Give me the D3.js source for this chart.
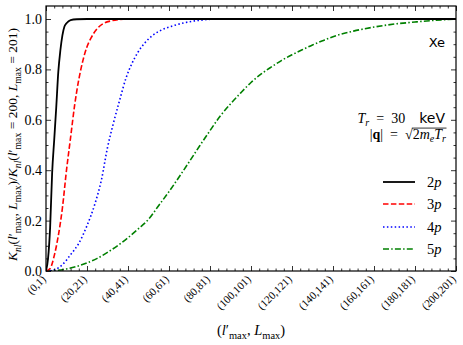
<!DOCTYPE html>
<html>
<head>
<meta charset="utf-8">
<script src="https://cdn.jsdelivr.net/npm/d3@7"></script>
<style>
  html, body { margin: 0; padding: 0; background: #fff; }
  svg { display: block; }
</style>
</head>
<body>
<svg id="chart" width="463" height="345"></svg>
<script>
// ---- data ----
const seriesNames = ["2p", "3p", "4p", "5p"];
const seriesColors = ["#000000", "#ff0000", "#0000ff", "#008000"];
const seriesDash = [null, "5.5,2.4", "1.5,2.4", "6,2.2,1.5,2.2"];

const x2p = [0, 1, 2, 3, 4, 5, 6, 7, 8, 9, 10, 12, 15, 20, 200];
const y2p = [0, 0.05, 0.17, 0.39, 0.52, 0.65, 0.79, 0.875, 0.935, 0.97, 0.983, 0.996, 0.999, 1.0, 1.0];

const x3p = [0, 2, 4, 6, 8, 10, 12, 14, 16, 18, 20, 22, 25, 28, 32, 36, 40, 200];
const y3p = [0, 0.01, 0.06, 0.14, 0.25, 0.40, 0.53, 0.66, 0.76, 0.835, 0.89, 0.925, 0.962, 0.982, 0.993, 0.998, 1.0, 1.0];

const x4p = [0, 4, 8, 12, 16, 20, 24, 27, 30, 33, 36, 39, 42, 45, 48, 52, 56, 62, 68, 75, 85, 200];
const y4p = [0, 0.005, 0.025, 0.065, 0.11, 0.18, 0.27, 0.36, 0.49, 0.59, 0.68, 0.765, 0.825, 0.87, 0.903, 0.935, 0.955, 0.973, 0.986, 0.995, 1.0, 1.0];

const x5p = [0, 5, 10, 15, 20, 25, 30, 35, 40, 45, 50, 55, 60, 65, 70, 75, 80, 85, 90, 95, 100, 105, 110, 115, 120, 125, 130, 135, 140, 150, 160, 170, 180, 190, 200];
const y5p = [0, 0.002, 0.008, 0.018, 0.032, 0.05, 0.074, 0.101, 0.132, 0.167, 0.205, 0.26, 0.315, 0.374, 0.435, 0.497, 0.557, 0.615, 0.663, 0.707, 0.748, 0.782, 0.81, 0.836, 0.858, 0.878, 0.897, 0.914, 0.93, 0.952, 0.968, 0.98, 0.988, 0.995, 1.0];

const xTicks = [0, 20, 40, 60, 80, 100, 120, 140, 160, 180, 200];
const xTickLabels = ["(0,1)", "(20,21)", "(40,41)", "(60,61)", "(80,81)", "(100,101)", "(120,121)", "(140,141)", "(160,161)", "(180,181)", "(200,201)"];
const yTicks = [0, 0.2, 0.4, 0.6, 0.8, 1.0];

// ---- layout ----
const L = 46, R = 456, T = 6, B = 271;
const SERIF = "'Liberation Serif', 'DejaVu Serif', serif";
const SANS = "'DejaVu Sans', sans-serif";

const svg = d3.select("#chart");
const x = d3.scaleLinear().domain([0, 200]).range([L, R]);
const y = d3.scaleLinear().domain([0, 1.0516]).range([B, T]);

// rich text helper: segments {t, it, sub, sup, bold, font}
function rich(textSel, segs, size, subShift) {
  const ss = subShift === undefined ? 0.28 : subShift;
  let cur = 0;
  segs.forEach(s => {
    const shift = s.sub ? size * ss : (s.sup ? -size * 0.4 : 0);
    const fs = (s.sub || s.sup) ? size * 0.72 : size;
    const ts = textSel.append("tspan")
      .text(s.t)
      .attr("font-size", fs)
      .attr("font-style", s.it ? "italic" : "normal")
      .attr("font-weight", s.bold ? "bold" : "normal");
    if (s.font) ts.attr("font-family", s.font);
    if (shift !== cur) { ts.attr("dy", shift - cur); cur = shift; }
  });
}

// ---- curves ----
const xs = [x2p, x3p, x4p, x5p];
const ys = [y2p, y3p, y4p, y5p];
const line = d3.line().x(d => x(d[0])).y(d => y(d[1])).curve(d3.curveMonotoneX);
svg.append("clipPath").attr("id", "clip").append("rect")
  .attr("x", L).attr("y", T).attr("width", R - L).attr("height", B - T);
const plotG = svg.append("g").attr("clip-path", "url(#clip)");
[3, 2, 1, 0].forEach(i => {
  const pts = xs[i].map((v, k) => [v, ys[i][k]]);
  plotG.append("path")
    .attr("d", line(pts))
    .attr("fill", "none")
    .attr("stroke", seriesColors[i])
    .attr("stroke-width", i === 0 ? 1.8 : 1.6)
    .attr("stroke-dasharray", seriesDash[i]);
});

// ---- axes (inward ticks on all sides) ----
const xMinor = d3.range(0, 201, 4).filter(v => v % 20 !== 0);
const yMinor = d3.range(0, 1.0001, 0.05).filter(v => Math.abs(v * 5 - Math.round(v * 5)) > 1e-6);

function styleAxis(g) {
  g.select(".domain").remove();
  g.selectAll("line").attr("stroke", "#000").attr("stroke-width", 0.8);
}

svg.append("g").attr("transform", `translate(0,${B})`)
  .call(d3.axisBottom(x).tickValues(xMinor).tickFormat("").tickSize(-2.5)).call(styleAxis);
const xAx = svg.append("g").attr("transform", `translate(0,${B})`)
  .call(d3.axisBottom(x).tickValues(xTicks).tickFormat((d, i) => xTickLabels[i]).tickSize(-5)).call(styleAxis);
xAx.selectAll("text")
  .attr("x", 0).attr("y", 0).attr("dy", 0)
  .attr("text-anchor", "end")
  .attr("transform", "translate(0,9) rotate(-45)")
  .attr("font-family", SERIF).attr("font-size", 11).attr("fill", "#000");

svg.append("g").attr("transform", `translate(0,${T})`)
  .call(d3.axisTop(x).tickValues(xMinor).tickFormat("").tickSize(-2.5)).call(styleAxis);
svg.append("g").attr("transform", `translate(0,${T})`)
  .call(d3.axisTop(x).tickValues(xTicks).tickFormat("").tickSize(-5)).call(styleAxis);

svg.append("g").attr("transform", `translate(${L},0)`)
  .call(d3.axisLeft(y).tickValues(yMinor).tickFormat("").tickSize(-2.5)).call(styleAxis);
const yAx = svg.append("g").attr("transform", `translate(${L},0)`)
  .call(d3.axisLeft(y).tickValues(yTicks).tickFormat(d3.format(".1f")).tickSize(-5)).call(styleAxis);
yAx.selectAll("text")
  .attr("x", -4)
  .attr("font-family", SERIF).attr("font-size", 14).attr("fill", "#000");

svg.append("g").attr("transform", `translate(${R},0)`)
  .call(d3.axisRight(y).tickValues(yMinor).tickFormat("").tickSize(-2.5)).call(styleAxis);
svg.append("g").attr("transform", `translate(${R},0)`)
  .call(d3.axisRight(y).tickValues(yTicks).tickFormat("").tickSize(-5)).call(styleAxis);

// frame
svg.append("rect").attr("x", L).attr("y", T).attr("width", R - L).attr("height", B - T)
  .attr("fill", "none").attr("stroke", "#000").attr("stroke-width", 1.2);

// ---- axis labels ----
const xl = svg.append("text").attr("x", 251).attr("y", 335).attr("text-anchor", "middle")
  .attr("font-family", SERIF).attr("fill", "#000");
rich(xl, [{t: "("}, {t: "l", it: true}, {t: "′"}, {t: "max", sub: true}, {t: ", "},
          {t: "L", it: true}, {t: "max", sub: true}, {t: ")"}], 14.5);

const yl = svg.append("text").attr("transform", `translate(17,${(T + B) / 2 + 6}) rotate(-90)`)
  .attr("text-anchor", "middle").attr("font-family", SERIF).attr("fill", "#000");
rich(yl, [{t: "K", it: true}, {t: "nl", it: true, sub: true}, {t: "("}, {t: "l", it: true}, {t: "′"},
          {t: "max", sub: true}, {t: ", "}, {t: "L", it: true}, {t: "max", sub: true}, {t: ")/"},
          {t: "K", it: true}, {t: "nl", it: true, sub: true}, {t: "("}, {t: "l", it: true}, {t: "′"},
          {t: "max", sub: true}, {t: " = 200, "}, {t: "L", it: true}, {t: "max", sub: true},
          {t: " = 201)"}], 13.5);

// ---- annotations ----
svg.append("text").attr("x", 445).attr("y", 47).attr("text-anchor", "end")
  .attr("font-family", SANS).attr("font-size", 13).attr("fill", "#000").text("Xe");

const t1 = svg.append("text").attr("x", 445).attr("y", 123).attr("text-anchor", "end")
  .attr("font-family", SERIF).attr("fill", "#000");
rich(t1, [{t: "T", it: true}, {t: "r", it: true, sub: true}, {t: "\u2002=\u200230\u2002\u2002"}, {t: "keV", font: SANS}], 14, 0.2);

const t2Base = 139, t2Size = 14;
const t2 = svg.append("text").attr("x", 446).attr("y", t2Base).attr("text-anchor", "end")
  .attr("font-family", SERIF).attr("fill", "#000");
rich(t2, [{t: "|"}, {t: "q", bold: true}, {t: "|\u2002=\u2002√"}, {t: "2"}, {t: "m", it: true}, {t: "e", it: true, sub: true},
          {t: "T", it: true}, {t: "r", it: true, sub: true}], t2Size, 0.2);
// overline for the radical
(function () {
  const node = t2.node();
  const n = node.getNumberOfChars();
  const full = "|q|\u2002=\u2002√2meTr";
  const iSq = full.indexOf("√");
  const p1 = node.getEndPositionOfChar(n - 1);
  const sq = node.getEndPositionOfChar(iSq);
  const yo = t2Base - t2Size * 0.78;
  svg.append("line").attr("x1", sq.x - 0.8).attr("x2", p1.x + 0.5)
    .attr("y1", yo).attr("y2", yo)
    .attr("stroke", "#000").attr("stroke-width", 0.8);
})();

// ---- legend ----
const legY = [182, 204, 227, 249];
seriesNames.forEach((name, i) => {
  svg.append("line").attr("x1", 383).attr("x2", 415).attr("y1", legY[i]).attr("y2", legY[i])
    .attr("stroke", seriesColors[i]).attr("stroke-width", i === 0 ? 1.8 : 1.6).attr("stroke-dasharray", seriesDash[i]);
  const tx = svg.append("text").attr("x", 427).attr("y", legY[i] + 5)
    .attr("font-family", SERIF).attr("fill", "#000");
  rich(tx, [{t: name[0]}, {t: name.slice(1), it: true}], 14.5);
});
</script>
</body>
</html>
